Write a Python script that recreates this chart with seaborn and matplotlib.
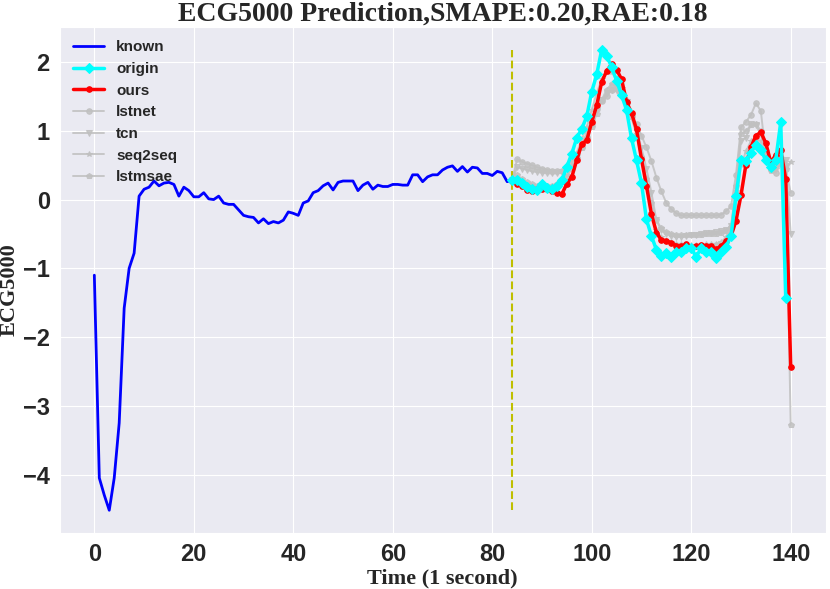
import numpy as np
import pandas as pd
import matplotlib
matplotlib.use("Agg")
import matplotlib.pyplot as plt
import seaborn as sns

# ---------------- data ----------------
known_vals = [-1.1, -4.05, -4.3, -4.52, -4.05, -3.25, -1.58, -1.0, -0.78, 0.05,
              0.15, 0.18, 0.27, 0.2, 0.24, 0.25, 0.22, 0.05, 0.18, 0.13,
              0.04, 0.04, 0.1, 0.01, 0.0, 0.05, -0.05, -0.07, -0.07, -0.15,
              -0.23, -0.25, -0.26, -0.34, -0.28, -0.35, -0.32, -0.34, -0.3, -0.18,
              -0.2, -0.23, -0.05, -0.02, 0.1, 0.13, 0.2, 0.24, 0.14, 0.25,
              0.27, 0.27, 0.27, 0.13, 0.21, 0.25, 0.15, 0.21, 0.19, 0.19,
              0.22, 0.22, 0.21, 0.21, 0.36, 0.36, 0.26, 0.33, 0.36, 0.36,
              0.43, 0.47, 0.49, 0.41, 0.48, 0.4, 0.47, 0.46, 0.38, 0.38,
              0.35, 0.41, 0.39, 0.26, 0.29]
origin_vals = [0.29, 0.29, 0.24, 0.18, 0.15, 0.14, 0.22, 0.17, 0.16, 0.19,
               0.28, 0.48, 0.67, 0.9, 1.03, 1.21, 1.57, 1.82, 2.18, 2.09,
               1.93, 1.73, 1.52, 1.3, 0.89, 0.57, 0.24, -0.29, -0.53, -0.73,
               -0.82, -0.78, -0.83, -0.77, -0.76, -0.71, -0.71, -0.83, -0.71, -0.76,
               -0.77, -0.85, -0.77, -0.69, -0.53, 0.05, 0.57, 0.56, 0.68, 0.8,
               0.72, 0.57, 0.47, 0.58, 1.13, -1.43]
ours_vals = [0.27, 0.23, 0.2, 0.14, 0.13, 0.15, 0.16, 0.16, 0.13, 0.1,
             0.08, 0.23, 0.33, 0.58, 0.81, 0.86, 1.13, 1.37, 1.71, 1.87,
             1.97, 1.89, 1.75, 1.42, 1.26, 1.02, 0.59, 0.2, -0.21, -0.48,
             -0.59, -0.6, -0.63, -0.67, -0.68, -0.65, -0.69, -0.68, -0.66, -0.68,
             -0.68, -0.72, -0.68, -0.6, -0.53, -0.31, 0.06, 0.51, 0.76, 0.93,
             0.98, 0.82, 0.54, 0.65, 0.72, 0.3, -2.43]
lstnet_vals = [0.28, 0.59, 0.55, 0.52, 0.5, 0.47, 0.45, 0.43, 0.42, 0.41,
               0.42, 0.48, 0.6, 0.67, 0.77, 0.91, 1.1, 1.32, 1.44, 1.5,
               1.6, 1.61, 1.52, 1.42, 1.21, 1.1, 0.93, 0.76, 0.56, 0.32,
               0.12, -0.05, -0.14, -0.2, -0.23, -0.23, -0.23, -0.23, -0.23, -0.23,
               -0.23, -0.23, -0.22, -0.17, -0.1, 0.36, 1.05, 1.13, 1.23, 1.4,
               1.29, 0.63, 0.43, 0.39, 0.56, 0.45, 0.1]
tcn_vals = [0.28, 0.47, 0.45, 0.43, 0.41, 0.4, 0.39, 0.38, 0.38, 0.38,
            0.4, 0.45, 0.55, 0.65, 0.8, 0.95, 1.15, 1.3, 1.45, 1.55,
            1.6, 1.58, 1.5, 1.38, 1.2, 1.0, 0.75, 0.45, 0.1, -0.3,
            -0.45, -0.5, -0.53, -0.54, -0.54, -0.53, -0.52, -0.51, -0.5, -0.49,
            -0.48, -0.47, -0.46, -0.45, -0.38, 0.1, 0.85, 0.9, 1.1, 1.08,
            0.95, 0.65, 0.45, 0.48, 0.58, 0.58, -0.5]
seq2seq_vals = [0.28, 0.28, 0.24, 0.2, 0.18, 0.18, 0.18, 0.17, 0.18, 0.2,
                0.25, 0.35, 0.5, 0.68, 0.88, 1.05, 1.3, 1.55, 1.75, 1.86,
                1.85, 1.75, 1.62, 1.45, 1.2, 0.95, 0.6, 0.2, -0.2, -0.45,
                -0.55, -0.6, -0.62, -0.64, -0.65, -0.66, -0.66, -0.66, -0.66, -0.65,
                -0.65, -0.64, -0.62, -0.55, -0.45, -0.1, 0.5, 0.7, 0.85, 0.88,
                0.85, 0.6, 0.42, 0.45, 0.5, 0.45, 0.55]
lstmsae_vals = [0.28, 0.35, 0.3, 0.25, 0.22, 0.2, 0.2, 0.19, 0.2, 0.22,
                0.27, 0.33, 0.45, 0.6, 0.75, 0.9, 1.05, 1.25, 1.45, 1.6,
                1.68, 1.65, 1.55, 1.4, 1.2, 0.95, 0.62, 0.3, -0.05, -0.3,
                -0.42, -0.47, -0.5, -0.51, -0.52, -0.52, -0.52, -0.52, -0.51, -0.5,
                -0.5, -0.5, -0.49, -0.46, -0.4, 0.2, 0.95, 1.0, 1.08, 1.1,
                1.0, 0.7, 0.5, 0.55, 0.6, 0.5, -3.28]

known_t = np.arange(0, len(known_vals))
origin_t = np.arange(84, 84 + len(origin_vals))
pred_t = np.arange(84, 84 + len(ours_vals))

title_text = "ECG5000 Prediction,SMAPE:0.20,RAE:0.18"
x_label = "Time (1 second)"
y_label = "ECG5000"
split_t = 84

# ---------------- style ----------------
sns.set_style("darkgrid")
plt.rcParams["font.family"] = ["Liberation Sans", "DejaVu Sans"]

fig, ax = plt.subplots(figsize=(8.3, 5.89), dpi=100)
fig.subplots_adjust(left=0.0717, right=0.9946, top=0.9547, bottom=0.0946)

sns.lineplot(x=known_t, y=known_vals, color="blue", lw=2, label="known", ax=ax, zorder=4)
sns.lineplot(x=origin_t, y=origin_vals, color="cyan", lw=2.5, marker="D",
             markersize=5, markeredgecolor="cyan", label="origin", ax=ax, zorder=4)
sns.lineplot(x=pred_t, y=ours_vals, color="red", lw=2.5, marker="o",
             markersize=4, markeredgecolor="red", label="ours", ax=ax, zorder=3)
gray_series = [("lstnet", lstnet_vals, "o"), ("tcn", tcn_vals, "v"),
               ("seq2seq", seq2seq_vals, "*"), ("lstmsae", lstmsae_vals, "p")]
for name, vals, mk in gray_series:
    sns.lineplot(x=pred_t, y=vals, color="silver", lw=1.4, marker=mk, alpha=0.85,
                 markersize=4, markeredgecolor="silver", label=name, ax=ax, zorder=2)

all_vals = known_vals + origin_vals
ax.vlines(split_t, min(all_vals), max(all_vals), colors="y", linestyles="dashed",
          lw=1.5, zorder=2)

ax.set_title(title_text, fontsize=20, fontweight="bold", family="Liberation Serif", pad=4)
ax.set_xlabel(x_label, fontsize=16, fontweight="bold", family="Liberation Serif", labelpad=2)
ax.set_ylabel(y_label, fontsize=16, fontweight="bold", family="Liberation Serif")
ax.yaxis.set_label_coords(-0.052, 0.48)
ax.set_xticks([0, 20, 40, 60, 80, 100, 120, 140])
ax.set_yticks([-4, -3, -2, -1, 0, 1, 2])
for lab in ax.get_xticklabels() + ax.get_yticklabels():
    lab.set_fontsize(17)
    lab.set_fontweight("bold")

leg = ax.legend(loc="upper left", frameon=False, prop={"weight": "bold", "size": 11})

fig.savefig("out.png", dpi=100)
